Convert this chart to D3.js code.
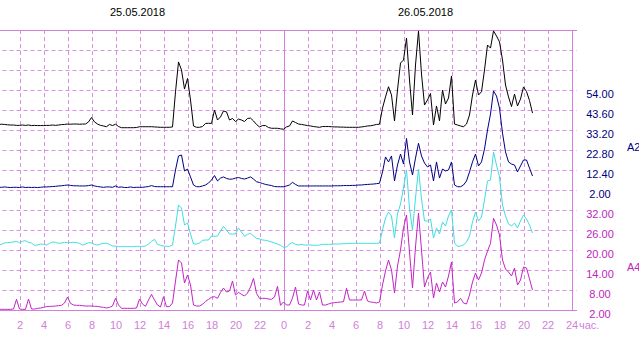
<!DOCTYPE html>
<html>
<head>
<meta charset="utf-8">
<script src="https://cdn.jsdelivr.net/npm/d3@7"></script>
<style>
  html, body { margin: 0; padding: 0; background: #fff; }
  svg { display: block; font-family: Arial, "Liberation Sans", sans-serif; }
</style>
</head>
<body>
<svg id="chart" width="639" height="340"></svg>
<script>
// Two days of 15-minute readings, hour 0 = 00:00 of the first day
const days = ["25.05.2018", "26.05.2018"];
const stepHours = 0.25;

// A1 (black)
const a1 = [4.9,4.9,5.0,4.9,4.7,4.6,4.6,4.4,4.4,4.6,
 4.4,4.6,4.3,4.4,4.3,4.3,4.3,4.4,4.4,4.6,
 4.4,4.6,4.8,4.9,5.1,5.0,5.1,5.1,5.0,5.1,
 5.1,6.2,8.5,6.2,5.1,4.4,4.1,3.7,4.9,4.3,
 5.0,3.8,3.2,3.2,3.2,3.2,3.2,3.3,3.7,3.7,
 3.7,3.7,3.7,3.6,3.5,3.4,3.4,3.4,3.4,3.6,
 21.8,37.4,33.2,23.3,28.8,17.6,4.1,3.4,3.4,3.8,
 5.4,5.5,5.4,12.4,7.2,8.8,11.9,11.4,7.2,8.0,
 6.4,7.7,7.2,6.4,8.0,8.2,6.7,4.9,3.6,4.3,
 4.3,3.3,2.9,2.9,2.9,2.6,2.4,3.6,4.1,6.7,
 5.9,5.1,4.9,4.6,4.3,4.1,3.8,3.6,3.4,3.8,
 3.8,3.8,3.7,3.6,3.6,3.5,3.5,3.4,3.4,3.4,
 3.4,3.4,3.6,3.8,4.1,4.2,4.5,4.9,5.0,13.4,
 19.2,24.5,20.2,6.7,22.8,36.8,38.4,49.8,28.0,9.8,
 35.8,53.5,31.1,15.0,17.6,21.0,4.6,14.5,6.7,22.8,
 15.5,18.6,30.1,5.1,4.6,4.1,3.7,5.1,9.8,20.2,
 28.0,20.2,21.9,33.2,46.2,44.6,53.5,50.9,47.8,38.4,
 25.4,19.2,14.2,20.7,14.5,18.1,24.4,22.0,17.3,10.8];

// A2 (navy)
const a2 = [3.6,3.4,3.4,3.6,3.4,3.3,3.4,3.4,3.3,3.6,
 3.3,3.4,3.3,3.4,3.3,3.4,3.6,3.6,3.7,3.8,
 3.9,4.1,4.2,4.4,4.6,4.4,4.2,4.2,4.1,4.1,
 4.1,4.3,4.6,4.1,3.8,3.6,3.4,3.6,3.6,3.4,
 4.1,3.4,3.6,3.3,3.3,3.6,3.3,3.4,3.4,3.4,
 3.6,3.8,4.3,3.8,3.7,3.7,3.7,3.7,3.7,3.7,
 12.4,19.7,20.2,11.9,12.9,8.8,4.6,3.7,3.7,4.1,
 4.6,5.6,7.2,9.5,6.7,8.2,8.8,8.0,7.6,7.7,
 8.2,8.5,8.0,7.7,8.2,8.8,7.7,6.3,5.9,5.4,
 4.9,4.6,4.3,3.8,3.7,3.7,3.7,4.1,4.6,6.0,
 4.9,4.1,4.1,4.1,4.1,4.1,4.1,4.1,4.1,4.1,
 4.1,4.1,4.1,4.2,4.2,4.2,4.3,4.3,4.3,4.4,
 4.4,4.6,4.6,4.8,4.9,5.0,5.1,5.3,5.5,11.4,
 19.2,16.6,19.7,6.7,15.0,20.7,15.5,28.8,16.6,9.8,
 18.6,26.3,19.7,16.0,14.0,15.0,6.7,16.6,8.2,12.9,
 11.9,12.4,16.6,4.6,3.7,3.7,4.6,6.7,11.4,16.6,
 20.7,14.5,16.6,23.3,33.2,41.5,53.5,50.9,44.6,31.6,
 21.8,16.6,15.5,15.0,11.4,14.5,17.6,17.6,13.4,9.3];

// A3 (cyan)
const a3 = [3.5,3.5,3.7,4.1,4.2,4.3,4.4,4.6,4.2,4.6,
 4.8,4.3,4.1,3.4,3.5,3.8,3.7,3.5,4.0,4.4,
 4.3,4.0,4.1,4.3,4.2,4.2,4.3,4.2,4.0,3.5,
 3.8,4.2,4.1,3.7,3.5,3.8,4.0,4.0,3.7,3.2,
 3.2,3.0,3.0,3.0,3.0,3.0,3.0,3.1,3.1,3.1,
 3.2,3.8,4.6,5.2,3.7,3.4,3.2,3.1,3.1,3.5,
 9.2,15.5,14.6,9.5,10.1,6.8,3.8,3.8,4.1,4.9,
 5.0,5.0,6.2,6.1,6.2,7.7,9.1,8.0,6.8,6.8,
 6.8,8.6,7.4,6.1,6.7,7.0,6.2,5.5,5.3,5.0,
 4.9,4.7,4.4,4.1,3.8,3.4,2.8,2.9,3.8,4.2,
 3.7,3.5,3.7,3.5,3.5,3.5,3.4,3.4,3.5,3.7,
 3.7,3.7,3.7,3.8,3.8,3.8,3.9,3.9,4.0,4.0,
 4.0,4.0,4.0,4.0,4.0,4.0,4.0,4.0,4.1,8.0,
 11.6,13.4,12.2,5.6,12.8,15.8,20.6,26.0,14.6,8.0,
 17.6,26.3,17.3,10.7,10.7,11.3,5.6,8.6,6.8,10.4,
 9.2,12.2,14.0,4.1,3.1,3.2,3.5,4.4,6.2,10.4,
 13.4,10.7,11.9,17.0,22.7,23.0,31.4,27.5,23.9,15.5,
 12.2,9.8,9.2,10.1,8.6,10.7,12.5,11.3,9.5,7.1];

// A4 (magenta)
const a4 = [2.2,2.2,2.2,2.2,2.2,2.2,2.3,5.2,2.3,2.2,
 2.2,5.3,2.3,2.3,2.5,2.6,2.8,3.0,3.1,3.1,
 3.2,3.3,3.4,4.1,5.9,4.0,3.5,3.4,3.4,3.3,
 3.2,3.2,3.2,3.1,3.1,2.9,2.8,2.6,2.8,3.2,
 5.5,3.5,2.5,2.5,2.5,2.5,2.5,2.6,5.3,3.8,
 3.1,5.0,6.7,5.0,3.5,2.9,6.0,3.0,3.0,4.1,
 10.7,17.0,16.1,10.1,12.5,9.5,3.5,3.2,3.2,3.7,
 4.6,5.2,5.8,6.0,5.5,7.3,8.6,7.4,7.7,10.7,
 6.5,7.3,6.7,6.2,7.1,8.9,11.5,7.0,5.5,5.5,
 5.5,5.3,5.2,5.9,9.1,3.4,4.4,3.5,3.5,5.6,
 8.9,3.8,3.5,3.5,7.7,5.0,8.0,5.0,7.4,3.5,
 3.5,3.8,4.1,4.2,4.3,4.4,4.5,8.5,5.0,5.0,
 5.0,5.0,5.0,7.7,4.7,4.4,4.3,4.1,4.4,9.5,
 13.7,17.0,14.0,7.1,15.2,20.0,26.6,30.5,19.4,8.6,
 20.9,31.1,20.0,8.9,11.6,13.4,5.6,10.1,7.4,10.4,
 8.9,12.2,16.4,4.1,4.4,5.5,4.1,3.8,6.5,10.4,
 13.1,11.0,13.1,17.0,19.7,22.0,29.5,27.5,24.5,17.0,
 14.3,13.4,12.2,14.6,9.5,11.0,14.9,14.6,11.3,8.0];

// Axis tick labels
const hourTicks = d3.range(2, 49, 2);
const a2Ticks = [2.0, 12.4, 22.8, 33.2, 43.6, 54.0];
const a4Ticks = [2, 8, 14, 20, 26, 32];
const unitLabel = "час.";

// ---- layout ----
const svg = d3.select("#chart");
const plotTop = 30, plotBottom = 310, gridRight = 577;
const gridColor = "#d98fe2";
const frameColor = "#d27fdb";
const hourColor = "#cf7fd8";

const x = d3.scaleLinear().domain([0, 48]).range([-4.5, 571.5]);
// each channel occupies its own 100px band of the shared 20px grid
const yA1 = d3.scaleLinear().domain([2, 54]).range([130, 30]);
const yA2 = d3.scaleLinear().domain([2, 54]).range([190, 90]);
const yA3 = d3.scaleLinear().domain([2, 32]).range([250, 150]);
const yA4 = d3.scaleLinear().domain([2, 32]).range([310, 210]);
const rows = d3.scaleLinear().domain([0, 14]).range([plotTop, plotBottom]);

// horizontal grid
const gh = svg.append("g");
d3.range(15).forEach(k => {
  const y = rows(k) + 0.5;
  const edge = (k === 0 || k === 14);
  gh.append("line")
    .attr("x1", x(0)).attr("x2", gridRight)
    .attr("y1", y).attr("y2", y)
    .attr("stroke", edge ? frameColor : gridColor)
    .attr("stroke-width", 1)
    .attr("stroke-dasharray", edge ? null : "4,3");
});

// vertical grid: dashed every 2 h, solid at midnight and at the end
hourTicks.forEach(h => {
  const solid = (h % 24 === 0);
  const xx = Math.round(x(h)) + 0.5;
  gh.append("line")
    .attr("x1", xx).attr("x2", xx)
    .attr("y1", plotTop).attr("y2", plotBottom + 1)
    .attr("stroke", solid ? frameColor : gridColor)
    .attr("stroke-width", 1)
    .attr("stroke-dasharray", solid ? null : "4,3");
});

// series
const series = [
  { values: a1, y: yA1, color: "#000000" },
  { values: a2, y: yA2, color: "#000080" },
  { values: a3, y: yA3, color: "#3fdede" },
  { values: a4, y: yA4, color: "#c224c4" }
];
series.forEach(s => {
  const line = d3.line()
    .x((d, i) => x(i * stepHours))
    .y(d => s.y(d));
  svg.append("path")
    .datum(s.values)
    .attr("d", line)
    .attr("fill", "none")
    .attr("stroke", s.color)
    .attr("stroke-width", 1);
});

// hour axis
const xAxis = d3.axisBottom(x)
  .tickValues(hourTicks)
  .tickFormat(h => h === 48 ? "24" : String(h % 24))
  .tickSize(0)
  .tickPadding(11);
const gx = svg.append("g").attr("transform", `translate(0,${plotBottom})`).call(xAxis);
gx.select(".domain").remove();
gx.selectAll("text")
  .attr("fill", hourColor)
  .style("font-size", "11px")
  .style("font-family", "Arial, 'Liberation Sans', sans-serif");

svg.append("text")
  .attr("x", x(48) + 7.5).attr("y", 329)
  .attr("fill", hourColor)
  .style("font-size", "11px")
  .text(unitLabel);

// value axes on the right
function valueAxis(scale, ticks, color) {
  const ax = d3.axisRight(scale)
    .tickValues(ticks)
    .tickFormat(d3.format(".2f"))
    .tickSize(0)
    .tickPadding(0);
  const g = svg.append("g").attr("transform", "translate(600,0)").call(ax);
  g.select(".domain").remove();
  g.selectAll("text")
    .attr("fill", color)
    .attr("text-anchor", "middle")
    .attr("dy", "0.68em")
    .style("font-size", "11px")
    .style("font-family", "Arial, 'Liberation Sans', sans-serif");
}
valueAxis(yA2, a2Ticks, "#000080");
valueAxis(yA4, a4Ticks, "#c024c0");

svg.append("text").attr("x", 627).attr("y", 150.7)
  .attr("fill", "#000080").style("font-size", "11px").text("A2");
svg.append("text").attr("x", 627).attr("y", 271)
  .attr("fill", "#c024c0").style("font-size", "11px").text("A4");

// day captions
days.forEach((d, i) => {
  svg.append("text")
    .attr("x", x(12 + 24 * i) - 2).attr("y", 16)
    .attr("text-anchor", "middle")
    .attr("fill", "#000")
    .style("font-size", "11px")
    .text(d);
});
</script>
</body>
</html>
